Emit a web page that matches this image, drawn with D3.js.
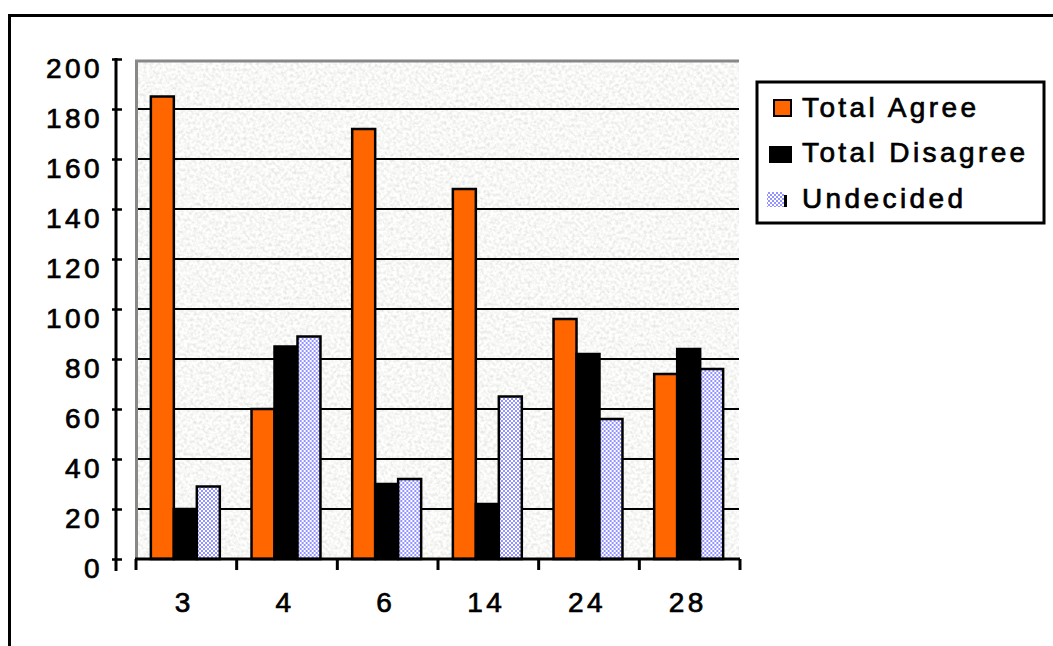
<!DOCTYPE html>
<html>
<head>
<meta charset="utf-8">
<script src="https://cdn.jsdelivr.net/npm/d3@7"></script>
<style>
  html, body { margin: 0; padding: 0; background: #fff; }
  svg { display: block; }
  text { font-family: "Liberation Sans", Arial, sans-serif; font-size: 28px; letter-spacing: 3.4px; fill: #000; stroke: #000; stroke-width: 0.7px; }
</style>
</head>
<body>
<svg id="chart" width="1053" height="646"></svg>
<script>
// Survey responses per item number
const categories = ["3", "4", "6", "14", "24", "28"];
const seriesNames = ["Total Agree", "Total Disagree", "Undecided"];
const totalAgree    = [185, 60, 172, 148, 96, 74];
const totalDisagree = [20, 85, 30, 22, 82, 84];
const undecided     = [29, 89, 32, 65, 56, 76];
const yTickValues = [0, 20, 40, 60, 80, 100, 120, 140, 160, 180, 200];

const seriesValues = [totalAgree, totalDisagree, undecided];
const rows = categories.map((c, i) => ({
  cat: c,
  vals: seriesNames.map((s, k) => ({ series: s, value: seriesValues[k][i] }))
}));

const svg = d3.select("#chart");
const defs = svg.append("defs");

// grainy plot-area background
const grain = defs.append("filter").attr("id", "grain")
  .attr("x", 0).attr("y", 0).attr("width", "100%").attr("height", "100%")
  .attr("filterUnits", "objectBoundingBox");
grain.append("feTurbulence").attr("type", "fractalNoise")
  .attr("baseFrequency", 0.32).attr("numOctaves", 2).attr("seed", 7);
grain.append("feColorMatrix").attr("type", "matrix")
  .attr("values", "0.45 0 0 0 0.71  0.45 0 0 0 0.71  0.4 0 0 0 0.72  0 0 0 0 1");

// checker fill for "Undecided"
const checker = defs.append("pattern").attr("id", "checker")
  .attr("patternUnits", "userSpaceOnUse").attr("width", 4).attr("height", 4);
checker.append("rect").attr("width", 4).attr("height", 4).attr("fill", "#ffffff");
checker.append("rect").attr("width", 2).attr("height", 2).attr("fill", "#9494ff");
checker.append("rect").attr("x", 2).attr("y", 2).attr("width", 2).attr("height", 2).attr("fill", "#9494ff");

const fills = { "Total Agree": "#ff6600", "Total Disagree": "#000000", "Undecided": "url(#checker)" };

const plot = { left: 135, right: 739, top: 60, bottom: 559 };

const x0 = d3.scaleBand().domain(categories).range([plot.left, plot.right]).paddingInner(0).paddingOuter(0);
const x1 = d3.scaleBand().domain(seriesNames).range([0, x0.bandwidth()]).paddingInner(0).paddingOuter(0.69);
const y = d3.scaleLinear().domain([0, 200]).range([plot.bottom, plot.bottom - 500]);

// outer frame (top and left edges)
svg.append("line").attr("x1", 8).attr("x2", 1053).attr("y1", 15.5).attr("y2", 15.5)
  .attr("stroke", "#000").attr("stroke-width", 3);
svg.append("line").attr("x1", 9.5).attr("x2", 9.5).attr("y1", 14).attr("y2", 646)
  .attr("stroke", "#000").attr("stroke-width", 3);

// plot area
svg.append("rect").attr("x", plot.left).attr("y", plot.top)
  .attr("width", plot.right - plot.left).attr("height", plot.bottom - plot.top)
  .attr("fill", "#eee").attr("filter", "url(#grain)");
svg.append("line").attr("x1", plot.left).attr("x2", plot.right).attr("y1", plot.top + 1).attr("y2", plot.top + 1)
  .attr("stroke", "#888").attr("stroke-width", 3);
svg.append("line").attr("x1", plot.left + 1.5).attr("x2", plot.left + 1.5).attr("y1", plot.top).attr("y2", plot.bottom)
  .attr("stroke", "#888").attr("stroke-width", 3);

// gridlines
svg.append("g").selectAll("line")
  .data(yTickValues.filter(v => v > 0 && v < 200))
  .join("line")
  .attr("x1", plot.left + 3).attr("x2", plot.right)
  .attr("y1", d => y(d)).attr("y2", d => y(d))
  .attr("stroke", "#000").attr("stroke-width", 2);

// bars
const groups = svg.append("g").selectAll("g")
  .data(rows).join("g")
  .attr("transform", d => `translate(${x0(d.cat)},0)`);
groups.selectAll("rect")
  .data(d => d.vals).join("rect")
  .attr("x", d => x1(d.series))
  .attr("y", d => y(d.value))
  .attr("width", x1.bandwidth())
  .attr("height", d => y(0) - y(d.value))
  .attr("fill", d => fills[d.series])
  .attr("stroke", "#000").attr("stroke-width", 2.5);

// x axis
const xAxis = svg.append("g").attr("transform", `translate(0,${plot.bottom})`);
xAxis.append("line").attr("x1", plot.left).attr("x2", plot.right + 1).attr("y1", 0).attr("y2", 0)
  .attr("stroke", "#000").attr("stroke-width", 3);
const xBounds = categories.map(c => x0(c)).concat([x0(categories[categories.length - 1]) + x0.bandwidth()]);
xAxis.selectAll("line.tick").data(xBounds).join("line").attr("class", "tick")
  .attr("x1", d => d + 1).attr("x2", d => d + 1).attr("y1", 0).attr("y2", 11)
  .attr("stroke", "#000").attr("stroke-width", 3);
xAxis.selectAll("text").data(categories).join("text")
  .attr("x", d => x0(d) + x0.bandwidth() / 2 - 1)
  .attr("y", 53)
  .attr("text-anchor", "middle")
  .text(d => d);

// y axis (offset to the left of the plot area)
const yAxis = svg.append("g").attr("transform", "translate(116,0)")
  .call(d3.axisLeft(y).tickValues(yTickValues).tickSize(0).tickPadding(0));
yAxis.select(".domain").remove();
yAxis.append("line").attr("x1", 0).attr("x2", 0).attr("y1", y(200) - 1).attr("y2", y(0) + 12)
  .attr("stroke", "#000").attr("stroke-width", 3);
yAxis.selectAll(".tick line")
  .attr("x1", -4).attr("x2", 6).attr("stroke", "#000").attr("stroke-width", 2.5);
yAxis.selectAll(".tick text")
  .attr("x", -13).attr("dy", 18)
  .attr("text-anchor", "end")
  .attr("font-family", null).attr("font-size", null)
  .style("font-family", "'Liberation Sans', Arial, sans-serif")
  .style("font-size", "28px");

// legend
const legend = svg.append("g");
legend.append("rect").attr("x", 757).attr("y", 82).attr("width", 287).attr("height", 141)
  .attr("fill", "#fff").attr("stroke", "#000").attr("stroke-width", 3);
const legendRows = [
  { name: seriesNames[0], sw: [774, 100, 17, 16], base: 117 },
  { name: seriesNames[1], sw: [770, 147, 21, 15], base: 162 },
  { name: seriesNames[2], sw: [767, 192, 17, 15], base: 208 }
];
legendRows.forEach((r, i) => {
  legend.append("rect").attr("x", r.sw[0]).attr("y", r.sw[1]).attr("width", r.sw[2]).attr("height", r.sw[3])
    .attr("fill", fills[r.name])
    .attr("stroke", i === 2 ? "none" : "#000").attr("stroke-width", 2);
  if (i === 2) {
    legend.append("rect").attr("x", 784).attr("y", 195).attr("width", 3).attr("height", 12).attr("fill", "#000");
  }
  legend.append("text").attr("x", 802).attr("y", r.base).text(r.name);
});
</script>
</body>
</html>
